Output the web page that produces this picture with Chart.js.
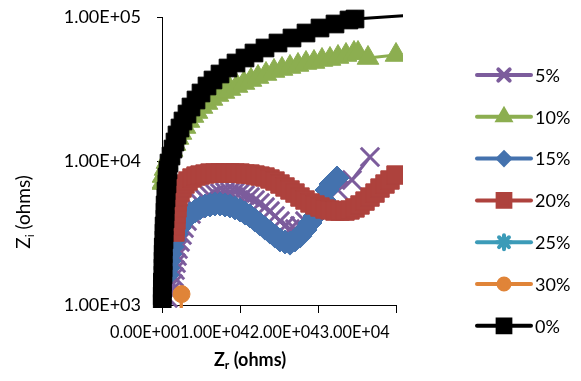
<!DOCTYPE html>
<html><head><meta charset="utf-8">
<script src="https://cdn.jsdelivr.net/npm/chart.js@4.4.1/dist/chart.umd.min.js"></script>
<style>html,body{margin:0;padding:0;background:#fff}canvas{display:block}</style>
</head><body>
<canvas id="c" width="581" height="381"></canvas>
<script>
// ---- data ----
const seriesNames = ['5%', '10%', '15%', '20%', '25%', '30%', '0%'];

const x5  = [128,769,1154,1410,1538,1667,1795,1923,2051,2308,2564,2820,3205,3718,4231,4872,5513,6154,6795,7436,8077,8718,9359,10000,10641,11282,11923,12564,13205,13846,14487,15128,15769,16410,17051,17692,18333,18974,19615,20256,21153,22564,24358,26666];
const y5  = [1016,1118,1251,1399,1565,1750,1957,2189,2448,2740,3060,3420,3830,4280,4720,5110,5440,5710,5900,5990,6090,6090,6090,5990,5800,5620,5360,5110,4790,4490,4150,3830,3540,3370,3370,3540,3830,4220,4570,5010,5620,6290,7380,10660];

const x10 = [50,128,385,641,897,1282,1667,2051,2436,2949,3461,3974,4487,5128,5769,6410,7179,7948,8718,9615,10512,11410,12307,13333,14359,15384,16410,17436,18461,19487,20512,21538,22564,23589,24615,25128,26410,30000];
const y10 = [7030,7860,8800,9840,10830,11920,13130,14450,15650,17220,18960,20540,21890,23710,25280,26960,28730,30150,31620,33180,34810,36520,38310,40200,42170,43540,44960,46420,47930,48700,50280,51090,52750,54460,56230,56230,51920,54460];

const x15 = [641,769,897,1026,1282,1538,1795,2179,2564,3077,3590,4231,4872,5513,6154,6795,7436,8077,8718,9359,10000,10641,11282,11923,12564,13205,13846,14487,15128,15769,16410,17051,17692,18333,18974,19615,20256,20769,21153,21666,22435];
const y15 = [1615,1807,2020,2260,2530,2830,3110,3420,3710,4020,4280,4490,4720,4870,4950,5030,5030,4950,4870,4720,4570,4350,4150,3890,3650,3420,3210,3010,2830,2740,2690,2830,3010,3320,3710,4150,4720,5360,6290,6920,7620];

const x20 = [1667,1700,1795,1800,1923,1930,2051,2308,2564,2949,3333,3846,4359,4872,5513,6154,6795,7436,8077,8718,9359,10000,10641,11282,11923,12564,13205,13846,14487,15128,15769,16410,17051,17692,18333,18974,19615,20256,20897,21538,22179,22820,23461,24102,24743,25384,26025,26666,27307,27948,28589,29230,30000];
const y20 = [3210,3540,3890,4280,4720,5190,5620,6090,6490,6920,7260,7620,7860,7990,8120,8250,8250,8250,8250,8250,8250,8250,8120,8120,7990,7860,7740,7500,7260,6920,6600,6290,5990,5620,5360,5110,4950,4790,4640,4570,4490,4490,4490,4570,4720,4950,5270,5620,5990,6490,6920,7380,7990];

const x25 = [300,800,1500,2200];
const y25 = [300,450,600,700];

const x30 = [2500,2450];
const y30 = [1190,500];

const x0  = [30,30,40,50,130,130,140,150,160,256,260,270,385,390,400,513,520,641,650,769,897,1154,1410,1667,1923,2308,2692,3205,3718,4359,5000,5769,6538,7436,8461,9487,10641,11794,13205,14871,16666,18461,20256,22179,23974,24743,33500];
const y0  = [1032,1155,1292,1445,1615,1807,2020,2260,2530,2830,3162,3540,3955,4420,4950,5530,6190,6920,7740,8656,9680,10830,12110,13550,15160,16950,18960,21200,23710,26520,29670,33180,36520,40200,44240,47930,51920,56230,60920,65980,71480,77420,83860,89420,95320,96850,104000];

const xTickValues = [0, 10000, 20000, 30000];
const xTickLabels = ['0.00E+00', '1.00E+04', '2.00E+04', '3.00E+04'];
const yTickValues = [1000, 10000, 100000];
const yTickLabels = ['1.00E+03', '1.00E+04', '1.00E+05'];

// ---- styles ----
const colors  = ['#7C5C9C', '#8CAE50', '#4472AE', '#AE423D', '#3C9BB8', '#E08438', '#000000'];
const styles  = ['crossRot', 'triangle', 'rectRot', 'rect', 'star', 'circle', 'rect'];
const radii   = [13, 12.5, 12, 13, 8, 8.5, 12.5];
const legendR = [8, 7, 6, 9, 7, 5.5, 9];
const xs = [x5, x10, x15, x20, x25, x30, x0];
const ys = [y5, y10, y15, y20, y25, y30, y0];

const datasets = seriesNames.map((name, i) => ({
  label: name,
  data: xs[i].map((x, j) => ({x: x, y: ys[i][j]})),
  showLine: true,
  borderColor: colors[i],
  backgroundColor: colors[i],
  pointBackgroundColor: colors[i],
  pointBorderColor: colors[i],
  pointStyle: styles[i],
  pointRadius: radii[i],
  pointHoverRadius: radii[i],
  pointBorderWidth: styles[i] === 'crossRot' || styles[i] === 'star' ? 3 : 1,
  borderWidth: 3,
  tension: 0,
  order: seriesNames.length - 1 - i,
  clip: {left: 10, top: 8, right: 7, bottom: 3}
}));

const FONT = 'Lato, "Open Sans", sans-serif';

function drawSubTitle(ctx, main, sub, rest, size, bold) {
  const w = bold ? 'bold ' : '';
  const small = Math.round(size * 0.65);
  ctx.font = w + size + 'px ' + FONT;
  const w1 = ctx.measureText(main).width;
  const w3 = ctx.measureText(rest).width;
  ctx.font = w + small + 'px ' + FONT;
  const w2 = ctx.measureText(sub).width;
  let x = -(w1 + w2 + w3) / 2;
  ctx.textAlign = 'left';
  ctx.textBaseline = 'middle';
  ctx.font = w + size + 'px ' + FONT;
  ctx.fillText(main, x, 0);
  x += w1;
  ctx.font = w + small + 'px ' + FONT;
  ctx.fillText(sub, x, size * 0.3);
  x += w2;
  ctx.font = w + size + 'px ' + FONT;
  ctx.fillText(rest, x, 0);
}

const extras = {
  id: 'extras',
  afterDraw(chart) {
    const ctx = chart.ctx;
    const sx = chart.scales.x;
    ctx.save();
    ctx.fillStyle = '#000';
    // x tick labels (run together as in the reference)
    ctx.font = '16.3px ' + FONT;
    ctx.textBaseline = 'middle';
    ctx.textAlign = 'left';
    let px = sx.getPixelForValue(xTickValues[0]) - 52;
    xTickLabels.forEach(l => { ctx.fillText(l, px, sx.top + 28); px += ctx.measureText(l).width; });
    // x title
    ctx.save();
    ctx.translate(250, 360);
    drawSubTitle(ctx, 'Z', 'r', ' (ohms)', 18, true);
    ctx.restore();
    // y title
    ctx.save();
    ctx.translate(24, 212);
    ctx.rotate(-Math.PI / 2);
    drawSubTitle(ctx, 'Z', 'i', ' (ohms)', 19, false);
    ctx.restore();
    // legend
    const top = 75, gap = 41.8;
    seriesNames.forEach((name, i) => {
      const y = top + i * gap;
      ctx.strokeStyle = colors[i];
      ctx.lineWidth = 4;
      ctx.lineCap = 'round';
      ctx.beginPath(); ctx.moveTo(477, y); ctx.lineTo(531, y); ctx.stroke();
      ctx.fillStyle = colors[i];
      ctx.strokeStyle = colors[i];
      Chart.helpers.drawPoint(ctx, {pointStyle: styles[i], radius: legendR[i], rotation: 0,
        borderWidth: (styles[i] === 'crossRot' || styles[i] === 'star') ? 2.5 : 1}, 504, y);
      ctx.fillStyle = '#000';
      ctx.font = '18px ' + FONT;
      ctx.textAlign = 'left';
      ctx.textBaseline = 'middle';
      ctx.fillText(name, 535, y + 1);
    });
    ctx.restore();
  }
};

function noPad(s) { s.paddingTop = 0; s.paddingBottom = 0; s.paddingLeft = 0; s.paddingRight = 0; }

new Chart(document.getElementById('c'), {
  type: 'scatter',
  data: {datasets: datasets},
  options: {
    responsive: false,
    animation: false,
    devicePixelRatio: 1,
    layout: {autoPadding: false, padding: {top: 17, right: 185, left: 0, bottom: 0}},
    plugins: {legend: {display: false}, tooltip: {enabled: false}},
    scales: {
      x: {
        type: 'linear', min: 0, max: 30000,
        afterBuildTicks: s => { s.ticks = xTickValues.map(v => ({value: v})); },
        afterFit: s => { s.height = 76; noPad(s); },
        ticks: {color: 'rgba(0,0,0,0)', autoSkip: false, maxRotation: 0, font: {size: 16, family: FONT}},
        grid: {drawOnChartArea: false, drawTicks: true, tickLength: 8, color: '#000', lineWidth: 1},
        border: {display: true, color: '#000', width: 1}
      },
      y: {
        type: 'logarithmic', min: 1000, max: 100000,
        afterBuildTicks: s => { s.ticks = yTickValues.map(v => ({value: v})); },
        afterFit: s => { s.width = 162; noPad(s); },
        ticks: {
          color: '#000', padding: 16, autoSkip: false,
          font: {size: 18, family: FONT},
          callback: v => yTickLabels[yTickValues.indexOf(v)]
        },
        grid: {drawOnChartArea: false, drawTicks: true, tickLength: 5, color: '#000', lineWidth: 1},
        border: {display: true, color: '#000', width: 1}
      }
    }
  },
  plugins: [extras]
});
</script>
</body></html>
